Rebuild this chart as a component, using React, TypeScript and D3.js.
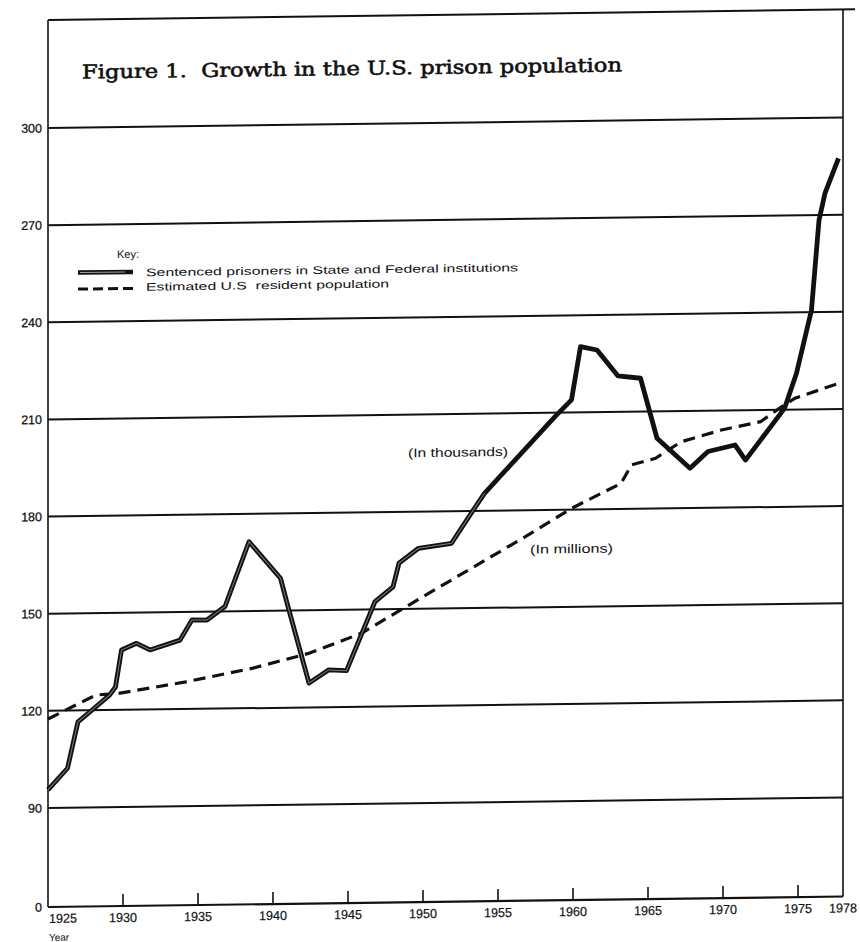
import React from "react";
import * as d3 from "d3";

// Sentenced prisoners (thousands) – vertices
const prisonYears = [1925.0, 1926.3, 1927.0, 1928.1, 1929.1, 1929.5, 1929.9, 1930.9, 1931.8, 1933.8, 1934.6, 1935.6, 1936.8, 1938.4, 1940.5, 1941.0, 1942.4, 1943.7, 1944.9, 1946.8, 1948.0, 1948.4, 1949.7, 1951.9, 1953.5, 1954.1, 1958.8, 1959.9, 1960.5, 1961.6, 1963.0, 1964.5, 1965.6, 1967.8, 1969.0, 1970.8, 1971.5, 1974.1, 1974.9, 1975.9, 1976.4, 1976.8, 1977.7];
const prisonValues = [95.6, 102.2, 116.5, 120.7, 124.6, 127.1, 138.5, 140.5, 138.4, 141.3, 147.5, 147.4, 151.5, 171.4, 160.0, 151.2, 127.5, 131.5, 131.2, 152.4, 156.9, 164.2, 168.7, 170.1, 181.3, 185.4, 208.8, 213.9, 230.3, 229.2, 221.1, 220.3, 201.7, 192.3, 197.4, 199.3, 194.6, 210.4, 221.2, 240.7, 268.4, 276.7, 287.4];

// Estimated U.S. resident population (millions)
const popYears = [1925.0, 1928.2, 1929.7, 1934.2, 1938.6, 1942.4, 1945.9, 1950.4, 1956.8, 1959.9, 1963.2, 1963.9, 1965.5, 1967.2, 1969.9, 1972.5, 1973.9, 1974.8, 1977.7];
const popValues = [117.5, 124.7, 125.1, 128.4, 132.3, 136.7, 142.7, 154.8, 171.8, 180.4, 187.9, 193.6, 195.5, 200.5, 204.0, 206.4, 210.9, 213.5, 217.9];

const yTicks = [0, 90, 120, 150, 180, 210, 240, 270, 300];
const xTicks = [1925, 1930, 1935, 1940, 1945, 1950, 1955, 1960, 1965, 1970, 1975, 1978];

const title = "Figure 1.\u00a0\u00a0Growth in the U.S. prison population";
const keyTitle = "Key:";
const keyPrison = "Sentenced prisoners in State and Federal institutions";
const keyPop = "Estimated U.S\u00a0\u00a0resident population";
const labelThousands = "(In thousands)";
const labelMillions = "(In millions)";
const xAxisTitle = "Year";

export default function App() {
  const W = 860;
  const H = 942;
  const left = 48;
  const right = 843;
  const top = 20;
  const bottom = 907;

  const x = d3.scaleLinear().domain([1925, 1978]).range([left, right]);
  const y = d3.scaleLinear().domain([0, 90, 300]).range([bottom, 808, 128]);

  const prison = prisonYears.map((yr, i) => [yr, prisonValues[i]] as [number, number]);
  const pop = popYears.map((yr, i) => [yr, popValues[i]] as [number, number]);

  const line = d3
    .line<[number, number]>()
    .x((d) => x(d[0]))
    .y((d) => y(d[1]))
    .curve(d3.curveLinear);

  const k = 0.0132;
  const skewDeg = (-Math.atan(k) * 180) / Math.PI;
  const skew = `translate(0, ${left * k}) skewY(${skewDeg})`;

  const sans = "'Liberation Sans', Arial, Helvetica, sans-serif";
  const ink = "#111";

  const gridTicks = yTicks.filter((t) => t > 0);
  const innerTicks = xTicks.filter((t) => t > 1925 && t < 1978);

  return (
    <svg
      width={W}
      height={H}
      style={{ position: "absolute", left: 0, top: 0, background: "#fff", display: "block" }}
    >
      <rect x={0} y={0} width={W} height={H} fill="#fff" />
      <g transform={skew}>
        {/* frame */}
        <line x1={left} x2={right + 12} y1={top} y2={top} stroke={ink} strokeWidth={2} />
        <line x1={left} x2={left} y1={top} y2={bottom} stroke={ink} strokeWidth={1.6} />
        <line x1={right} x2={right} y1={top} y2={bottom} stroke={ink} strokeWidth={1.6} />
        <line x1={left} x2={right} y1={bottom} y2={bottom} stroke={ink} strokeWidth={2.2} />

        {/* gridlines */}
        {gridTicks.map((t) => (
          <line key={t} x1={left} x2={right} y1={y(t)} y2={y(t)} stroke={ink} strokeWidth={2} />
        ))}

        {/* y labels */}
        {yTicks.map((t) => (
          <text
            key={t}
            x={42}
            y={y(t)}
            dy="0.36em"
            textAnchor="end"
            fontFamily={sans}
            fontSize={12.5}
            fill={ink}
            stroke={ink}
            strokeWidth={0.25}
          >
            {t}
          </text>
        ))}

        {/* x ticks */}
        {innerTicks.map((t) => (
          <line key={t} x1={x(t)} x2={x(t)} y1={bottom} y2={bottom - 12} stroke={ink} strokeWidth={1.6} />
        ))}
        {xTicks.map((t) => (
          <text
            key={t}
            x={t === 1925 ? x(t) + 1 : x(t)}
            y={923}
            textAnchor={t === 1925 ? "start" : "middle"}
            fontFamily={sans}
            fontSize={13}
            fill={ink}
            stroke={ink}
            strokeWidth={0.2}
            textLength={28}
            lengthAdjust="spacingAndGlyphs"
          >
            {t}
          </text>
        ))}
        <text x={left + 1} y={941} fontFamily={sans} fontSize={10} fill={ink}>
          {xAxisTitle}
        </text>

        {/* title */}
        <text
          x={82}
          y={79}
          fontFamily="'DejaVu Serif', 'Liberation Serif', serif"
          fontSize={19}
          fill={ink}
          stroke={ink}
          strokeWidth={0.6}
          textLength={540}
          lengthAdjust="spacingAndGlyphs"
        >
          {title}
        </text>

        {/* key */}
        <text x={117} y={259} fontFamily={sans} fontSize={11} fill={ink}>
          {keyTitle}
        </text>
        <line x1={78} x2={133} y1={273} y2={273} stroke={ink} strokeWidth={4.5} />
        <line x1={80} x2={125} y1={273} y2={273} stroke="#fff" strokeWidth={1} opacity={0.6} />
        <line x1={78} x2={133} y1={289.5} y2={289.5} stroke={ink} strokeWidth={3} strokeDasharray="10 5" />
        <text
          x={146}
          y={277.5}
          fontFamily={sans}
          fontSize={11}
          fill={ink}
          textLength={372}
          lengthAdjust="spacingAndGlyphs"
        >
          {keyPrison}
        </text>
        <text
          x={146}
          y={292}
          fontFamily={sans}
          fontSize={11}
          fill={ink}
          textLength={243}
          lengthAdjust="spacingAndGlyphs"
        >
          {keyPop}
        </text>

        {/* series */}
        <path d={line(pop) || ""} fill="none" stroke={ink} strokeWidth={3.2} strokeDasharray="12 7" />
        <path d={line(prison) || ""} fill="none" stroke={ink} strokeWidth={4.8} strokeLinejoin="round" />
        <path
          d={line(prison.filter((d) => d[0] < 1957)) || ""}
          fill="none"
          stroke="#fff"
          strokeWidth={1}
          opacity={0.45}
        />

        {/* in-plot labels */}
        <text
          x={408}
          y={462}
          fontFamily={sans}
          fontSize={12.5}
          fill={ink}
          textLength={100}
          lengthAdjust="spacingAndGlyphs"
        >
          {labelThousands}
        </text>
        <text
          x={530}
          y={560}
          fontFamily={sans}
          fontSize={12.5}
          fill={ink}
          textLength={83}
          lengthAdjust="spacingAndGlyphs"
        >
          {labelMillions}
        </text>
      </g>
    </svg>
  );
}
